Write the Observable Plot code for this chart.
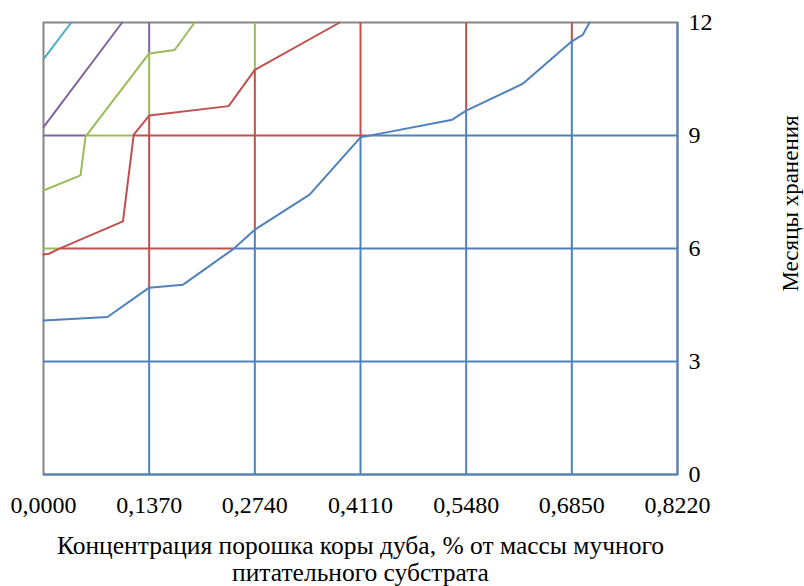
<!DOCTYPE html>
<html>
<head>
<meta charset="utf-8">
<script src="https://cdn.jsdelivr.net/npm/d3@7"></script>
<script src="https://cdn.jsdelivr.net/npm/@observablehq/plot@0.6"></script>
<style>
  html, body { margin: 0; padding: 0; background: #fff; }
  svg text { font-family: "Liberation Serif", "DejaVu Serif", serif; }
</style>
</head>
<body>
<div id="chart"></div>
<script>
// Tick values
const xTicks = [0, 0.137, 0.274, 0.411, 0.548, 0.685, 0.822];
const yTicks = [0, 3, 6, 9, 12];

// Contour lines (x = concentration, y = months)
const blueX = [0, 0.083, 0.137, 0.181, 0.245, 0.274, 0.345, 0.411, 0.530, 0.548, 0.621, 0.685, 0.699, 0.708];
const blueY = [4.09, 4.18, 4.96, 5.04, 5.97, 6.50, 7.43, 8.95, 9.42, 9.66, 10.37, 11.50, 11.67, 12];
const redX = [0, 0.007, 0.020, 0.103, 0.117, 0.137, 0.240, 0.274, 0.384];
const redY = [5.84, 5.86, 5.99, 6.72, 9.02, 9.53, 9.78, 10.74, 12];
const greenX = [0, 0.048, 0.0545, 0.137, 0.170, 0.196];
const greenY = [7.54, 7.94, 8.97, 11.18, 11.27, 12];
const purpleX = [0, 0.102];
const purpleY = [9.22, 12];
const cyanX = [0, 0.036];
const cyanY = [11.03, 12];

const bandColors = ["#4F81BD", "#C0504D", "#9BBB59", "#8064A2", "#4BACC6", "#F79646"];

const contours = [
  {x: blueX, y: blueY},
  {x: redX, y: redY},
  {x: greenX, y: greenY},
  {x: purpleX, y: purpleY},
  {x: cyanX, y: cyanY}
];

const xMax = xTicks[xTicks.length - 1];
const yMax = yTicks[yTicks.length - 1];

const polys = contours.map(c => c.x.map((x, i) => [x, c.y[i]]).concat([[0, yMax]]));
function band(px, py) {
  let k = 0;
  polys.forEach(p => { if (d3.polygonContains(p, [px, py])) k++; });
  return k;
}

// Split grid lines where contours cross them and colour each piece by its band
const segs = [];
function crossings(axis, c) {
  const out = [];
  contours.forEach(ct => {
    const A = axis === "x" ? ct.x : ct.y, B = axis === "x" ? ct.y : ct.x;
    for (let i = 0; i < A.length - 1; i++) {
      const a0 = A[i], a1 = A[i + 1];
      if (a0 !== a1 && (a0 - c) * (a1 - c) <= 0) {
        out.push(B[i] + (c - a0) / (a1 - a0) * (B[i + 1] - B[i]));
      }
    }
  });
  return out;
}
xTicks.slice(1).forEach(c => {
  const br = [0, yMax, ...crossings("x", c)].filter(v => v >= 0 && v <= yMax).sort((a, b) => a - b);
  for (let i = 0; i < br.length - 1; i++) {
    if (br[i + 1] - br[i] < 1e-9) continue;
    const k = band(c, (br[i] + br[i + 1]) / 2);
    segs.push({x1: c, x2: c, y1: br[i], y2: br[i + 1], color: bandColors[k]});
  }
});
yTicks.slice(0, -1).forEach(c => {
  const br = [0, xMax, ...crossings("y", c)].filter(v => v >= 0 && v <= xMax).sort((a, b) => a - b);
  for (let i = 0; i < br.length - 1; i++) {
    if (br[i + 1] - br[i] < 1e-9) continue;
    const k = band((br[i] + br[i + 1]) / 2, c);
    segs.push({x1: br[i], x2: br[i + 1], y1: c, y2: c, color: bandColors[k]});
  }
});

const lineRows = contours.flatMap((c, k) => c.x.map((x, i) => ({x, y: c.y[i], k, color: bandColors[k]})));

const font = "Liberation Serif, serif";

const chart = Plot.plot({
  width: 804,
  height: 586,
  marginLeft: 43,
  marginRight: 127,
  marginTop: 22,
  marginBottom: 112,
  style: {fontFamily: font, fontSize: "24px", background: "#fff", color: "#000"},
  color: {type: "identity"},
  x: {domain: [0, xMax], ticks: xTicks, tickSize: 0, tickPadding: 21, label: null,
      tickFormat: d => d.toFixed(4).replace(".", ",")},
  y: {domain: [0, yMax], ticks: yTicks, axis: "right", tickSize: 0, tickPadding: 11, label: null},
  marks: [
    Plot.frame({stroke: "#868686", strokeWidth: 2}),
    Plot.link(segs, {x1: "x1", y1: "y1", x2: "x2", y2: "y2", stroke: "color", strokeWidth: 2}),
    Plot.line(lineRows, {x: "x", y: "y", z: "k", stroke: "color", strokeWidth: 2}),
    Plot.text(["Концентрация порошка коры дуба, % от массы мучного\nпитательного субстрата"],
      {frameAnchor: "bottom", textAnchor: "middle", lineAnchor: "top", dy: 60, lineHeight: 1.06,
       fontSize: 25.5, fill: "#000"}),
    Plot.text(["Месяцы хранения"],
      {frameAnchor: "right", textAnchor: "middle", lineAnchor: "middle", rotate: -90, dx: 113, dy: -45,
       fontSize: 23, fill: "#000"})
  ]
});
document.getElementById("chart").appendChild(chart);
</script>
</body>
</html>
